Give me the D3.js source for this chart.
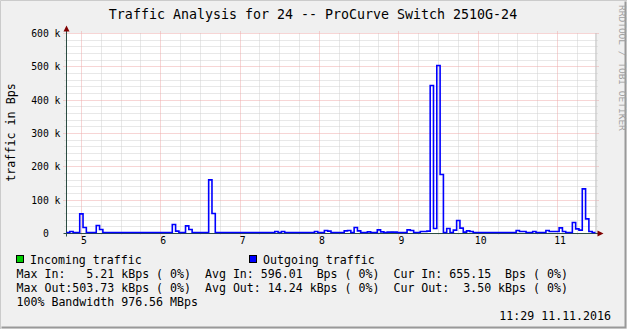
<!DOCTYPE html>
<html>
<head>
<meta charset="utf-8">
<script src="https://cdn.jsdelivr.net/npm/d3@7"></script>
<style>
  body { margin: 0; background: #f0f0f0; }
  svg { display: block; }
  text { font-family: 'DejaVu Sans Mono', monospace; white-space: pre; }
</style>
</head>
<body>
<div id="root"></div>
<script>
// hourly samples, starting 04.11.2016 19:29, values in Bps
const START = new Date(2016, 10, 4, 19, 29)
const END = new Date(2016, 10, 11, 11, 29)

// outgoing traffic, kBps, one value per hour (160 values)
const outgoingK = [
  3, 6, 3, 3, 59, 18, 3, 3, 3, 24, 12, 3, 3, 3, 3, 3, 3, 3, 3, 3,
  3, 3, 3, 3, 3, 3, 3, 3, 3, 3, 3, 3, 27, 7, 3, 3, 23, 12, 3, 3,
  3, 3, 3, 161, 60, 3, 3, 3, 3, 3, 3, 3, 3, 3, 3, 3, 3, 3, 3, 3,
  3, 3, 3, 6, 3, 6, 3, 3, 3, 3, 3, 3, 3, 3, 3, 6, 3, 3, 9, 7,
  3, 3, 3, 3, 8, 9, 3, 18, 8, 3, 3, 5, 3, 3, 11, 5, 3, 4, 4, 4,
  3, 3, 3, 11, 9, 3, 3, 6, 6, 7, 444, 15, 504, 177, 3, 15, 3, 10, 39, 16,
  4, 8, 6, 3, 3, 3, 3, 3, 3, 3, 3, 3, 3, 3, 3, 3, 9, 6, 6, 3,
  3, 6, 3, 3, 3, 9, 6, 6, 6, 17, 6, 3, 3, 33, 14, 10, 134, 44, 6, 3
]
// incoming traffic, kBps
const incomingK = [
  0.6, 0.6, 0.6, 0.6, 0.7, 0.6, 0.6, 0.6, 0.6, 0.6, 0.6, 0.6, 0.6, 0.6, 0.6, 0.6, 0.6, 0.6, 0.6, 0.6,
  0.6, 0.6, 0.6, 0.6, 0.6, 0.6, 0.6, 0.6, 0.6, 0.6, 0.6, 0.6, 0.7, 0.6, 0.6, 0.6, 0.7, 0.6, 0.6, 0.6,
  0.6, 0.6, 0.6, 0.8, 0.7, 0.6, 0.6, 0.6, 0.6, 0.6, 0.6, 0.6, 0.6, 0.6, 0.6, 0.6, 0.6, 0.6, 0.6, 0.6,
  0.6, 0.6, 0.6, 0.6, 0.6, 0.6, 0.6, 0.6, 0.6, 0.6, 0.6, 0.6, 0.6, 0.6, 0.6, 0.6, 0.6, 0.6, 0.6, 0.6,
  0.6, 0.6, 0.6, 0.6, 0.6, 0.6, 0.6, 0.6, 0.6, 0.6, 0.6, 0.6, 0.6, 0.6, 0.6, 0.6, 0.6, 4.5, 5.2, 4.6,
  0.6, 0.6, 0.6, 0.6, 0.6, 0.6, 0.6, 0.6, 0.6, 0.6, 0.9, 0.6, 1.0, 0.7, 0.6, 0.6, 0.6, 0.6, 0.6, 0.6,
  0.6, 0.6, 0.6, 0.6, 0.6, 0.6, 0.6, 0.6, 0.6, 0.6, 0.6, 0.6, 0.6, 0.6, 0.6, 0.6, 0.6, 0.6, 0.6, 0.6,
  0.6, 0.6, 0.6, 0.6, 0.6, 0.6, 0.6, 0.6, 0.6, 0.6, 0.6, 0.6, 0.6, 0.6, 0.6, 0.6, 0.7, 0.6, 0.6, 0.66
]

const yTicks = [0, 100000, 200000, 300000, 400000, 500000, 600000]
const dayTicks = [5, 6, 7, 8, 9, 10, 11].map(d => new Date(2016, 10, d))

const TITLE = 'Traffic Analysis for 24 -- ProCurve Switch 2510G-24'
const Y_LABEL = 'traffic in Bps'
const WATERMARK = 'RRDTOOL / TOBI OETIKER'
const SERIES = ['Incoming traffic', 'Outgoing traffic']
const SERIES_COLORS = ['#00cc00', '#0000ff']
const STATS = [
  'Max In:   5.21 kBps ( 0%)  Avg In: 596.01  Bps ( 0%)  Cur In: 655.15  Bps ( 0%)',
  'Max Out:503.73 kBps ( 0%)  Avg Out: 14.24 kBps ( 0%)  Cur Out:  3.50 kBps ( 0%)',
  '100% Bandwidth 976.56 MBps'
]
const TIMESTAMP = '11:29 11.11.2016'

const WIDTH = 627
const HEIGHT = 329
const PLOT_LEFT = 66.5
const PLOT_RIGHT = 595.5
const PLOT_TOP = 33.5
const PLOT_BOTTOM = 233.5

const GRID_COLOR = '#d0d0d0'
const MGRID_COLOR = '#eeaaaa'
const AXIS_COLOR = '#2c4d43'
const ARROW_COLOR = '#800000'

const rows = outgoingK.map((v, i) => ({
  t: d3.timeHour.offset(START, i),
  out: v * 1000,
  inc: incomingK[i] * 1000
}))
// closing sample so the last step reaches the end of the graph
rows.push({ t: END, out: rows[rows.length - 1].out, inc: rows[rows.length - 1].inc })

const svg = d3.select('#root')
  .append('svg')
  .attr('width', WIDTH)
  .attr('height', HEIGHT)

// background and 3d frame
svg.append('rect').attr('width', WIDTH).attr('height', HEIGHT).attr('fill', '#f0f0f0')
svg.append('path').attr('d', `M0.5,${HEIGHT}V0.5H${WIDTH}`).attr('stroke', '#cbcbcb').attr('fill', 'none')
svg.append('path').attr('d', `M1.5,${HEIGHT - 1.5}H${WIDTH - 1.5}V1.5`).attr('stroke', '#999').attr('fill', 'none').attr('stroke-width', 2)

const xScale = d3.scaleTime().domain([START, END]).range([PLOT_LEFT, PLOT_RIGHT])
const yScale = d3.scaleLinear().domain([0, 600000]).range([PLOT_BOTTOM, PLOT_TOP])

svg.append('rect')
  .attr('x', PLOT_LEFT - 0.5).attr('y', PLOT_TOP - 0.5)
  .attr('width', PLOT_RIGHT - PLOT_LEFT).attr('height', PLOT_BOTTOM - PLOT_TOP)
  .attr('fill', '#fff')

// grid
const grid = svg.append('g').attr('fill', 'none').attr('stroke-dasharray', '1,1')
const snap = v => Math.round(v - 0.5) + 0.5

const minorY = d3.range(0, 600001, 20000).filter(v => v % 100000 !== 0)
grid.selectAll('.hminor').data(minorY).enter().append('line')
  .attr('x1', PLOT_LEFT - 2).attr('x2', PLOT_RIGHT + 2)
  .attr('y1', d => snap(yScale(d))).attr('y2', d => snap(yScale(d)))
  .attr('stroke', GRID_COLOR)

const minorX = d3.timeHour.every(6).range(START, END).filter(d => d.getHours() !== 0)
grid.selectAll('.vminor').data(minorX).enter().append('line')
  .attr('x1', d => snap(xScale(d))).attr('x2', d => snap(xScale(d)))
  .attr('y1', PLOT_TOP).attr('y2', PLOT_BOTTOM + 2)
  .attr('stroke', GRID_COLOR)

grid.selectAll('.hmajor').data(yTicks.slice(1)).enter().append('line')
  .attr('x1', PLOT_LEFT - 3).attr('x2', PLOT_RIGHT + 3)
  .attr('y1', d => snap(yScale(d))).attr('y2', d => snap(yScale(d)))
  .attr('stroke', MGRID_COLOR)

grid.selectAll('.vmajor').data(dayTicks).enter().append('line')
  .attr('x1', d => snap(xScale(d))).attr('x2', d => snap(xScale(d)))
  .attr('y1', PLOT_TOP - 2).attr('y2', PLOT_BOTTOM + 3)
  .attr('stroke', MGRID_COLOR)

// right edge of the canvas
svg.append('line')
  .attr('x1', PLOT_RIGHT + 0.5).attr('x2', PLOT_RIGHT + 0.5)
  .attr('y1', PLOT_TOP - 0.5).attr('y2', PLOT_BOTTOM)
  .attr('stroke', '#c4c4c4')

// incoming area
svg.append('path')
  .datum(rows)
  .attr('fill', SERIES_COLORS[0])
  .attr('d', d3.area()
    .curve(d3.curveStepAfter)
    .x(d => xScale(d.t))
    .y0(yScale(0))
    .y1(d => yScale(d.inc)))

// axes lines
svg.append('line')
  .attr('x1', PLOT_LEFT - 3).attr('x2', PLOT_RIGHT + 4)
  .attr('y1', PLOT_BOTTOM).attr('y2', PLOT_BOTTOM)
  .attr('stroke', AXIS_COLOR)
svg.append('line')
  .attr('x1', PLOT_LEFT).attr('x2', PLOT_LEFT)
  .attr('y1', PLOT_BOTTOM + 3).attr('y2', PLOT_TOP - 4)
  .attr('stroke', AXIS_COLOR)

// outgoing line
svg.append('path')
  .datum(rows)
  .attr('fill', 'none')
  .attr('stroke', SERIES_COLORS[1])
  .attr('stroke-width', 1.6)
  .attr('d', d3.line()
    .curve(d3.curveStepAfter)
    .x(d => xScale(d.t))
    .y(d => yScale(d.out)))

// arrows
svg.append('path')
  .attr('d', `M${PLOT_LEFT - 3},${PLOT_TOP - 2}L${PLOT_LEFT},${PLOT_TOP - 8}L${PLOT_LEFT + 3},${PLOT_TOP - 2}Z`)
  .attr('fill', ARROW_COLOR)
svg.append('path')
  .attr('d', `M${PLOT_RIGHT + 2},${PLOT_BOTTOM - 3}L${PLOT_RIGHT + 8},${PLOT_BOTTOM}L${PLOT_RIGHT + 2},${PLOT_BOTTOM + 3}Z`)
  .attr('fill', ARROW_COLOR)

// axis labels
const yAxis = d3.axisLeft(yScale)
  .tickValues(yTicks)
  .tickSize(0)
  .tickPadding(6)
  .tickFormat(d => d === 0 ? '0  ' : `${d / 1000} k`)
svg.append('g')
  .attr('transform', `translate(${PLOT_LEFT},0)`)
  .call(yAxis)
  .call(g => g.select('.domain').remove())
  .selectAll('text')
  .attr('font-family', "'DejaVu Sans Mono', monospace")
  .attr('font-size', 9.75)
  .attr('fill', '#000')

const xAxis = d3.axisBottom(xScale)
  .tickValues(dayTicks)
  .tickSize(0)
  .tickPadding(4)
  .tickFormat(d3.timeFormat('%-d'))
svg.append('g')
  .attr('transform', `translate(2,${PLOT_BOTTOM})`)
  .call(xAxis)
  .call(g => g.select('.domain').remove())
  .selectAll('text')
  .attr('font-family', "'DejaVu Sans Mono', monospace")
  .attr('font-size', 9.75)
  .attr('fill', '#000')

// title and y label
svg.append('text')
  .attr('x', 313).attr('y', 18.5)
  .attr('text-anchor', 'middle')
  .attr('font-size', 13.3)
  .text(TITLE)

svg.append('text')
  .attr('transform', 'translate(14.5,132.5) rotate(-90)')
  .attr('text-anchor', 'middle')
  .attr('font-size', 11.7)
  .text(Y_LABEL)

svg.append('text')
  .attr('transform', 'translate(619,5) rotate(90)')
  .attr('font-size', 9.5)
  .attr('fill', '#a0a0a0')
  .text(WATERMARK)

// legend
const legendX = [16, 249]
SERIES.forEach((name, i) => {
  svg.append('rect')
    .attr('x', legendX[i] + 0.5).attr('y', 255.5)
    .attr('width', 7).attr('height', 7)
    .attr('fill', SERIES_COLORS[i])
    .attr('stroke', '#000').attr('stroke-width', 1)
  svg.append('text')
    .attr('x', legendX[i] + 14).attr('y', 263.5)
    .attr('font-size', 11.6)
    .text(name)
})

svg.selectAll('.stats').data(STATS).enter().append('text')
  .attr('x', 16.5)
  .attr('y', (_, i) => 277.5 + i * 14)
  .attr('font-size', 11.6)
  .text(d => d)

svg.append('text')
  .attr('x', 611).attr('y', 319.5)
  .attr('text-anchor', 'end')
  .attr('font-size', 11.6)
  .text(TIMESTAMP)
</script>
</body>
</html>
